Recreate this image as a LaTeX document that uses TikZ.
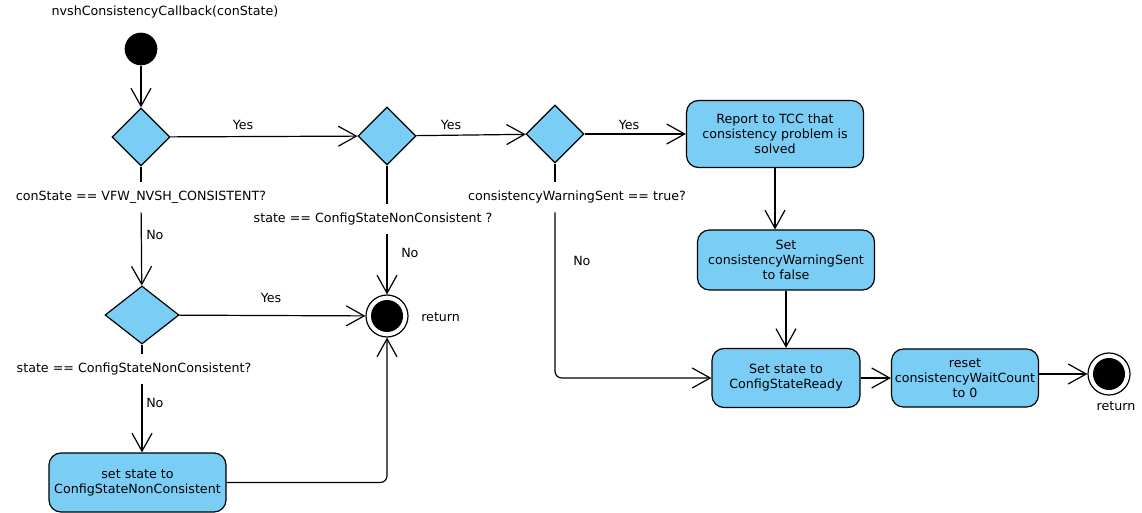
\documentclass[tikz,border=0pt]{standalone}
\usepackage{fontspec}
\setmainfont{DejaVu Sans}
\usetikzlibrary{shapes,arrows.meta}
\definecolor{skyblue}{RGB}{122,206,245}

\begin{document}
\begin{tikzpicture}[x=0.75pt,y=-0.75pt]
  \tikzset{DecisionStyle/.style = {
    shape         = diamond,
    draw          = black,
    fill          = skyblue,
    line width    = 0.9pt,
    inner sep     = 0pt,
    minimum width = 43.5pt,
    minimum height= 43.5pt
    }
  }
  \tikzset{ActionStyle/.style = {
    shape           = rectangle,
    rounded corners = 9pt,
    draw            = black,
    fill            = skyblue,
    line width      = 0.9pt,
    align           = center,
    inner sep       = 1pt,
    font            = \fontsize{9.5}{11.25}\selectfont
    }
  }
  \tikzset{GuardStyle/.style = {
    fill           = white,
    inner sep      = 0pt,
    minimum height = 22.5pt,
    font           = \fontsize{9.5}{11.25}\selectfont
    }
  }
  \tikzset{TextStyle/.style = {
    inner sep = 0pt,
    font      = \fontsize{9.5}{11.25}\selectfont
    }
  }
  \tikzset{StartStyle/.style = {
    shape        = circle,
    fill         = black,
    minimum size = 24.5pt,
    inner sep    = 0pt
    }
  }
  \tikzset{EndStyle/.style = {
    shape        = circle,
    draw         = black,
    fill         = white,
    line width   = 0.9pt,
    minimum size = 31.5pt,
    inner sep    = 0pt,
    path picture = {\fill[black] (path picture bounding box.center) circle (12pt);}
    }
  }
  \tikzset{LineStyle/.style = {
    draw       = black,
    line width = 0.9pt
    }
  }
  \tikzset{FlowStyle/.style = {
    LineStyle,
    -{Straight Barb[length=13.5pt,width=15pt,line width=0.9pt]}
    }
  }

  \useasboundingbox (0,0) rectangle (1142,513);

  \node[TextStyle](title) at (165, 12) {nvshConsistencyCallback(conState)};
  \node[StartStyle](start) at (141, 49) {};
  \node[DecisionStyle](d1) at (141, 137) {};
  \node[GuardStyle](c1) at (141, 197) {conState == VFW\_NVSH\_CONSISTENT?};
  \node[TextStyle, anchor=west](no1) at (146, 235) {No};
  \node[DecisionStyle, minimum width=55.5pt](d4) at (142, 315) {};
  \node[GuardStyle](c4) at (134, 369) {state == ConfigStateNonConsistent?};
  \node[TextStyle, anchor=west](no4) at (146, 403) {No};
  \node[ActionStyle, minimum width=132.75pt, minimum height=44.25pt](setnc) at (137.5, 482.5) {set state to\\ConfigStateNonConsistent};
  \node[EndStyle](ret1) at (387, 316) {};
  \node[TextStyle, anchor=west](retlabel1) at (421, 317) {return};
  \node[TextStyle](yes1) at (243, 125) {Yes};
  \node[TextStyle](yes4) at (271, 298) {Yes};
  \node[DecisionStyle](d2) at (387, 136) {};
  \node[GuardStyle](c2) at (373, 219) {state == ConfigStateNonConsistent ?};
  \node[TextStyle, anchor=west](no2) at (401, 253) {No};
  \node[TextStyle](yes2) at (451, 125) {Yes};
  \node[DecisionStyle](d3) at (555, 134) {};
  \node[GuardStyle](c3) at (577, 197) {consistencyWarningSent == true?};
  \node[TextStyle, anchor=west](no3) at (573, 261) {No};
  \node[TextStyle](yes3) at (629, 125) {Yes};
  \node[ActionStyle, minimum width=132.75pt, minimum height=50.25pt](report) at (775, 134) {Report to TCC that\\consistency problem is\\solved};
  \node[ActionStyle, minimum width=132.75pt, minimum height=45pt](setwarn) at (786, 260) {Set\\consistencyWarningSent\\to false};
  \node[ActionStyle, minimum width=111pt, minimum height=44.25pt](ready) at (786, 378) {Set state to\\ConfigStateReady};
  \node[ActionStyle, minimum width=110.25pt, minimum height=43.5pt](reset) at (965, 378) {reset\\consistencyWaitCount\\to 0};
  \node[EndStyle](ret2) at (1109, 374) {};
  \node[TextStyle](retlabel2) at (1116, 406) {return};

  \draw[FlowStyle](start) to (d1);
  \draw[FlowStyle](d1) to (d2);
  \draw[LineStyle](d1) to (c1);
  \draw[FlowStyle](c1) to (d4);
  \draw[FlowStyle](d4) to (ret1);
  \draw[LineStyle](d4) to (d4 |- c4.north);
  \draw[FlowStyle](d4 |- c4.south) to (d4 |- setnc.north);
  \draw[FlowStyle, rounded corners=5pt](setnc) -| (ret1);
  \draw[FlowStyle](d2) to (d3);
  \draw[LineStyle](d2) to (d2 |- c2.north);
  \draw[FlowStyle](d2 |- c2.south) to (ret1);
  \draw[FlowStyle](d3) to (report);
  \draw[LineStyle](d3) to (d3 |- c3.north);
  \draw[FlowStyle, rounded corners=5pt](d3 |- c3.south) |- (ready);
  \draw[FlowStyle](report) to (report |- setwarn.north);
  \draw[FlowStyle](setwarn) to (ready);
  \draw[FlowStyle](ready) to (reset);
  \draw[FlowStyle](reset.east |- ret2) to (ret2);

\end{tikzpicture}
\end{document}
